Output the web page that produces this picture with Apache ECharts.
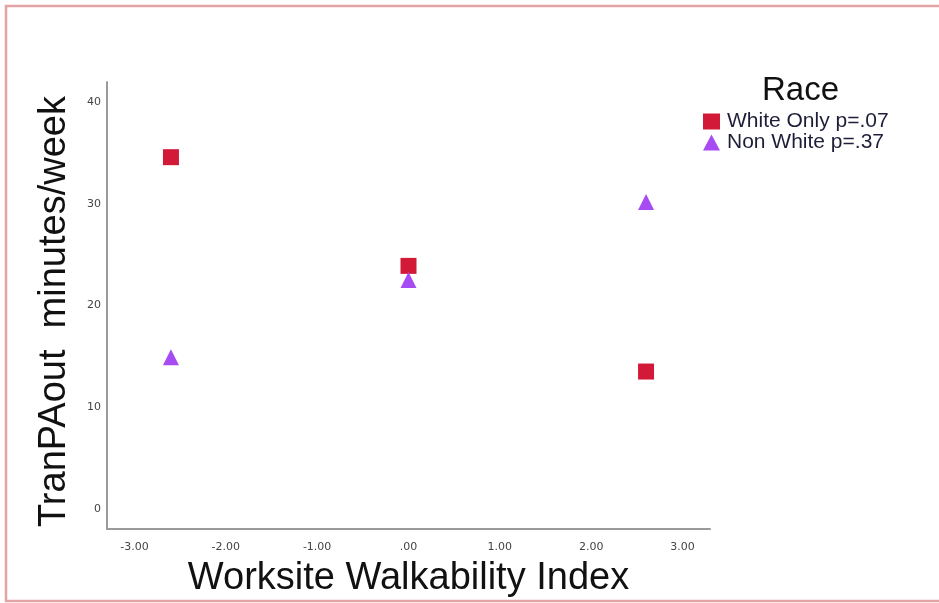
<!DOCTYPE html>
<html>
<head>
<meta charset="utf-8">
<script src="https://cdn.jsdelivr.net/npm/echarts@6/dist/echarts.min.js"></script>
<style>
  html, body { margin: 0; padding: 0; background: #fff; }
  #chart { width: 939px; height: 603px; }
</style>
</head>
<body>
<div id="chart"></div>
<script>
// Walkability groups (index values) and mean transport PA for each race group
const walkability = [-2.6, 0, 2.6];
const whiteOnly = [34.6, 23.9, 13.5];
const nonWhite = [14.9, 22.5, 30.2];

const seriesNames = ['White Only p=.07', 'Non White p=.37'];

const xTickValues = [-3, -2, -1, 0, 1, 2, 3];
const xTickLabels = ['-3.00', '-2.00', '-1.00', '.00', '1.00', '2.00', '3.00'];
const yTickValues = [0, 10, 20, 30, 40];
const yTickLabels = ['0', '10', '20', '30', '40'];

const pairs = (xs, ys) => xs.map((x, i) => [x, ys[i]]);

const chart = echarts.init(document.getElementById('chart'), null, { renderer: 'canvas' });

chart.setOption({
  backgroundColor: '#ffffff',
  animation: false,
  grid: { left: 107, right: 229, top: 82, bottom: 73, containLabel: false },
  title: {
    text: 'Race',
    left: 757,
    top: 69,
    textStyle: { fontFamily: 'Liberation Sans', fontSize: 33, fontWeight: 'normal', color: '#111' }
  },
  legend: {
    data: seriesNames,
    orient: 'vertical',
    left: 703,
    top: 111,
    padding: 0,
    itemWidth: 17,
    itemHeight: 16,
    itemGap: 0,
    textStyle: { fontFamily: 'Liberation Sans', fontSize: 21, lineHeight: 16, color: '#1e1e3a', padding: [4, 0, 0, 2] }
  },
  xAxis: {
    type: 'value',
    min: -3.3,
    max: 3.3,
    name: 'Worksite Walkability Index',
    nameLocation: 'middle',
    nameGap: 31,
    nameTextStyle: { fontFamily: 'Liberation Sans', fontSize: 38, color: '#111' },
    axisLine: { show: true, onZero: false, lineStyle: { color: '#9a9a9a', width: 2 } },
    axisTick: { show: false },
    splitLine: { show: false },
    axisLabel: {
      customValues: xTickValues,
      formatter: v => xTickLabels[xTickValues.indexOf(Math.round(v))],
      fontFamily: 'DejaVu Sans',
      fontSize: 11,
      color: '#444',
      margin: 13
    }
  },
  yAxis: {
    type: 'value',
    min: -2,
    max: 42,
    name: 'TranPAout  minutes/week',
    nameLocation: 'middle',
    nameRotate: 90,
    nameGap: 33,
    nameTextStyle: { fontFamily: 'Liberation Sans', fontSize: 38, color: '#111', padding: [0, 12, 0, 0] },
    axisLine: { show: true, onZero: false, lineStyle: { color: '#9a9a9a', width: 2 } },
    axisTick: { show: false },
    splitLine: { show: false },
    axisLabel: {
      customValues: yTickValues,
      formatter: v => yTickLabels[yTickValues.indexOf(Math.round(v))],
      fontFamily: 'DejaVu Sans',
      fontSize: 11,
      color: '#444',
      margin: 6
    }
  },
  series: [
    {
      name: seriesNames[0],
      type: 'scatter',
      symbol: 'rect',
      symbolSize: 16,
      itemStyle: { color: '#d21a38', opacity: 1 },
      data: pairs(walkability, whiteOnly)
    },
    {
      name: seriesNames[1],
      type: 'scatter',
      symbol: 'triangle',
      symbolSize: 16,
      itemStyle: { color: '#a64cf2', opacity: 1 },
      data: pairs(walkability, nonWhite)
    }
  ],
  graphic: [
    {
      type: 'rect',
      silent: true,
      shape: { x: 6, y: 6, width: 960, height: 595 },
      style: { fill: 'none', stroke: '#e4a4a6', lineWidth: 2.5 }
    }
  ]
});
</script>
</body>
</html>
